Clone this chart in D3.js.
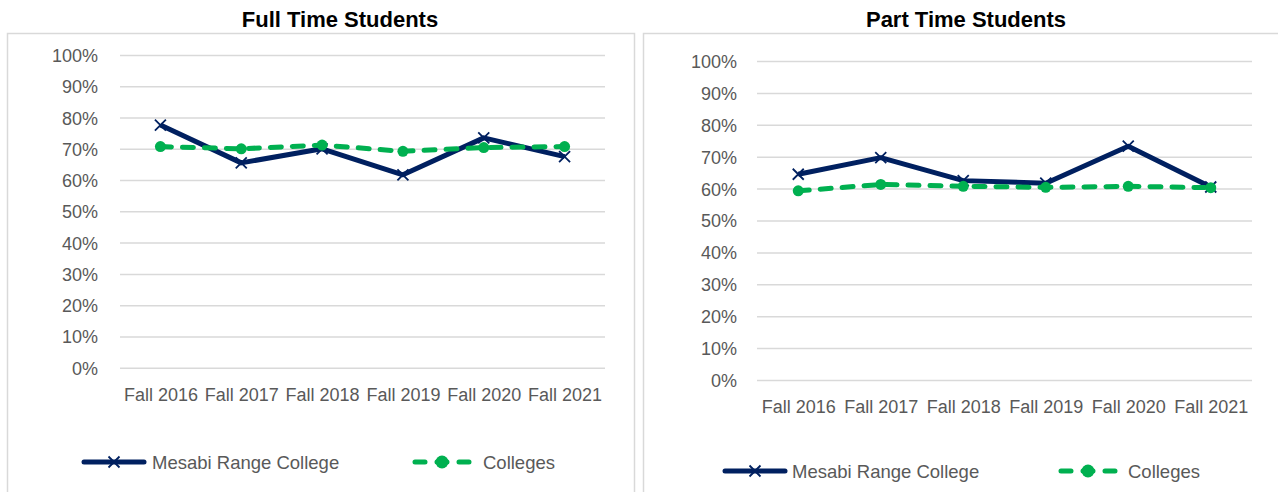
<!DOCTYPE html>
<html>
  <head>
    <meta charset="utf-8">
    <title>Retention</title>
    <script src="https://cdn.jsdelivr.net/npm/d3@7"></script>
    <style>
      body { margin: 0; background: #fff; }
      text { font-family: "Liberation Sans", Arial, sans-serif; fill: #595959; }
      .title { font-weight: bold; fill: #000; font-size: 22px; }
      .tick line { stroke: #d9d9d9; stroke-width: 1.5; }
      .tick text { font-size: 18px; fill: #595959; }
      .legend text { font-size: 18.5px; }
    </style>
  </head>
  <body>
    <div id="chart"></div>
    <script>
      // data
      var categories = ['Fall 2016', 'Fall 2017', 'Fall 2018', 'Fall 2019', 'Fall 2020', 'Fall 2021'];
      var seriesNames = ['Mesabi Range College', 'Colleges'];
      var fullTimeMesabi = [0.776, 0.655, 0.700, 0.617, 0.735, 0.675];
      var fullTimeColleges = [0.707, 0.700, 0.712, 0.692, 0.704, 0.707];
      var partTimeMesabi = [0.645, 0.697, 0.625, 0.617, 0.733, 0.605];
      var partTimeColleges = [0.593, 0.613, 0.607, 0.604, 0.607, 0.603];
      var yTicks = [0, 0.1, 0.2, 0.3, 0.4, 0.5, 0.6, 0.7, 0.8, 0.9, 1];

      var navy = '#002060';
      var green = '#00B050';

      var charts = [
        {
          title: 'Full Time Students', titleX: 340,
          box: { x: 7, y: 33, w: 627, h: 480 },
          plot: { left: 120, right: 605, top: 55, bottom: 367.7 },
          xPad: 21, yPad: 22,
          legendY: 462, legend: [{ x: 82, textX: 152 }, { x: 413, textX: 483 }],
          series: [fullTimeMesabi, fullTimeColleges]
        },
        {
          title: 'Part Time Students', titleX: 966,
          box: { x: 643, y: 33, w: 660, h: 480 },
          plot: { left: 757, right: 1252, top: 61, bottom: 380 },
          xPad: 20, yPad: 20,
          legendY: 471, legend: [{ x: 723, textX: 792 }, { x: 1059, textX: 1128 }],
          series: [partTimeMesabi, partTimeColleges]
        }
      ];

      var svg = d3.select('#chart')
        .append('svg')
        .attr('width', 1278)
        .attr('height', 492);

      charts.forEach(function(c) {
        var g = svg.append('g');

        g.append('rect')
          .attr('x', c.box.x + 0.5)
          .attr('y', c.box.y + 0.5)
          .attr('width', c.box.w)
          .attr('height', c.box.h)
          .attr('fill', 'none')
          .attr('stroke', '#d9d9d9')
          .attr('stroke-width', 1.5);

        g.append('text')
          .attr('class', 'title')
          .attr('x', c.titleX)
          .attr('y', 27)
          .attr('text-anchor', 'middle')
          .text(c.title);

        var x = d3.scalePoint()
          .domain(categories)
          .range([c.plot.left, c.plot.right])
          .padding(0.5);

        var y = d3.scaleLinear()
          .domain([0, 1])
          .range([c.plot.bottom, c.plot.top]);

        var yAxis = g.append('g')
          .attr('transform', 'translate(' + c.plot.left + ',0)')
          .call(d3.axisLeft(y)
            .tickValues(yTicks)
            .tickFormat(d3.format('.0%'))
            .tickSizeInner(-(c.plot.right - c.plot.left))
            .tickSizeOuter(0)
            .tickPadding(c.yPad));
        yAxis.select('.domain').remove();
        yAxis.selectAll('text').attr('dy', '0.36em');

        var xAxis = g.append('g')
          .attr('transform', 'translate(0,' + c.plot.bottom + ')')
          .call(d3.axisBottom(x).tickSize(0).tickPadding(c.xPad));
        xAxis.select('.domain').remove();

        var line = d3.line()
          .x(function(d, i) { return x(categories[i]); })
          .y(function(d) { return y(d); });

        // Mesabi series: solid navy with x markers
        g.append('path')
          .datum(c.series[0])
          .attr('d', line)
          .attr('fill', 'none')
          .attr('stroke', navy)
          .attr('stroke-width', 5)
          .attr('stroke-linejoin', 'round');

        g.selectAll('.xmark')
          .data(c.series[0])
          .enter().append('path')
          .attr('class', 'xmark')
          .attr('transform', function(d, i) {
            return 'translate(' + x(categories[i]) + ',' + y(d) + ')';
          })
          .attr('d', 'M-5.5,-5.5L5.5,5.5M-5.5,5.5L5.5,-5.5')
          .attr('stroke', navy)
          .attr('stroke-width', 1.8);

        // Colleges series: dashed green with round markers
        g.append('path')
          .datum(c.series[1])
          .attr('d', line)
          .attr('fill', 'none')
          .attr('stroke', green)
          .attr('stroke-width', 5)
          .attr('stroke-dasharray', '11 11')
          .attr('stroke-linecap', 'round');

        g.selectAll('.dot')
          .data(c.series[1])
          .enter().append('circle')
          .attr('class', 'dot')
          .attr('cx', function(d, i) { return x(categories[i]); })
          .attr('cy', function(d) { return y(d); })
          .attr('r', 5.5)
          .attr('fill', green);

        // legend
        var legend = g.append('g').attr('class', 'legend');
        var lw = 58;

        legend.append('line')
          .attr('x1', c.legend[0].x + 2)
          .attr('x2', c.legend[0].x + lw + 4)
          .attr('y1', c.legendY)
          .attr('y2', c.legendY)
          .attr('stroke', navy)
          .attr('stroke-width', 5)
          .attr('stroke-linecap', 'round');
        legend.append('path')
          .attr('transform', 'translate(' + (c.legend[0].x + 32) + ',' + c.legendY + ')')
          .attr('d', 'M-5.5,-5.5L5.5,5.5M-5.5,5.5L5.5,-5.5')
          .attr('stroke', navy)
          .attr('stroke-width', 1.8);
        legend.append('text')
          .attr('x', c.legend[0].textX)
          .attr('y', c.legendY + 6.5)
          .text(seriesNames[0]);

        legend.append('line')
          .attr('x1', c.legend[1].x + 2)
          .attr('x2', c.legend[1].x + lw - 2)
          .attr('y1', c.legendY)
          .attr('y2', c.legendY)
          .attr('stroke', green)
          .attr('stroke-width', 5)
          .attr('stroke-linecap', 'round')
          .attr('stroke-dasharray', '10 12 10 12 10');
        legend.append('circle')
          .attr('cx', c.legend[1].x + lw / 2)
          .attr('cy', c.legendY)
          .attr('r', 6.5)
          .attr('fill', green);
        legend.append('text')
          .attr('x', c.legend[1].textX)
          .attr('y', c.legendY + 6.5)
          .text(seriesNames[1]);
      });
    </script>
  </body>
</html>
